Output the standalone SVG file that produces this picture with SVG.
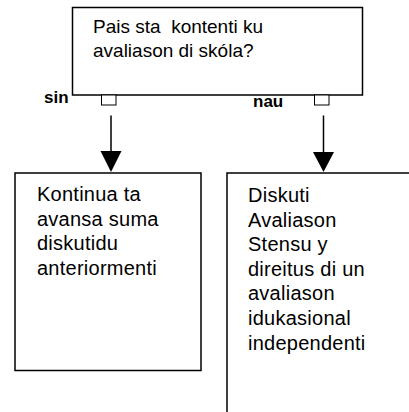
<svg xmlns="http://www.w3.org/2000/svg" width="409" height="412" viewBox="0 0 409 412">
<style>
.box{fill:#fff;stroke:#000;stroke-width:1.5}
.sq{fill:#fff;stroke:#000;stroke-width:1}
.t{font-family:"Liberation Sans",Arial,sans-serif;font-size:19px;fill:#000;white-space:pre}
.l{font-size:20px;letter-spacing:0.25px}
.b{font-family:"Liberation Sans",Arial,sans-serif;font-size:17px;font-weight:bold;fill:#000}
.ln{stroke:#000;stroke-width:1.5;fill:none}
.ah{fill:#000;stroke:none}
</style>
<rect width="409" height="412" fill="#fff"/>
<g id="question">
<rect class="box" x="72.5" y="7.5" width="290" height="87.5"/>
<text class="t" x="93" y="33">Pais sta  kontenti ku</text>
<text class="t" x="93" y="57">avaliason di skóla?</text>
</g>
<g id="sin-port">
<rect class="sq" x="101.5" y="95" width="14.5" height="10"/>
<text class="b" x="44" y="103">sin</text>
</g>
<g id="nau-port">
<rect class="sq" x="314.5" y="95" width="14.5" height="10"/>
<text class="b" x="253" y="107">nau</text>
</g>
<g id="connectors">
<line class="ln" x1="111" y1="115.5" x2="111" y2="152"/>
<polygon class="ah" points="100.5,151 121.5,151 111,172"/>
<line class="ln" x1="323.5" y1="115.5" x2="323.5" y2="152"/>
<polygon class="ah" points="313,152 334,152 323.5,172"/>
</g>
<g id="continue">
<rect class="box" x="15" y="173" width="186" height="197.5"/>
<text class="t l">
<tspan x="37" y="201">Kontinua ta</tspan>
<tspan x="37" y="225.6">avansa suma</tspan>
<tspan x="37" y="250.2">diskutidu</tspan>
<tspan x="37" y="274.8">anteriormenti</tspan>
</text>
</g>
<g id="discuss">
<rect class="box" x="227" y="173" width="200" height="260"/>
<text class="t l">
<tspan x="248" y="202">Diskuti</tspan>
<tspan x="248" y="226.6">Avaliason</tspan>
<tspan x="248" y="251.2">Stensu y</tspan>
<tspan x="248" y="275.8">direitus di un</tspan>
<tspan x="248" y="300.4">avaliason</tspan>
<tspan x="248" y="325">idukasional</tspan>
<tspan x="248" y="349.6">independenti</tspan>
</text>
</g>
</svg>
